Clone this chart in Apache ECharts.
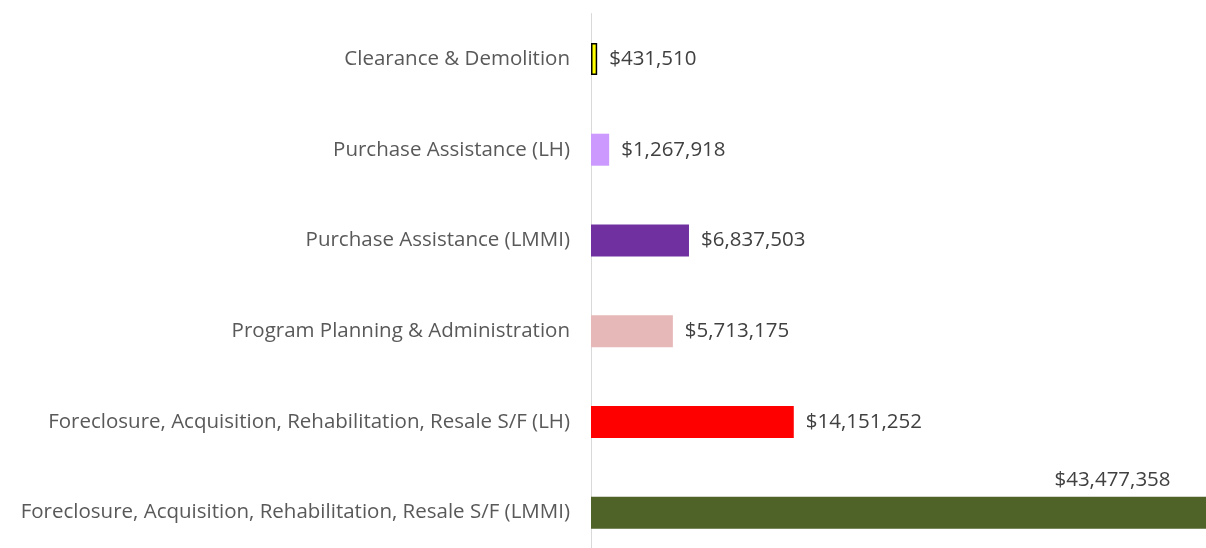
<!DOCTYPE html>
<html>
<head>
<meta charset="utf-8">
<script src="https://cdn.jsdelivr.net/npm/echarts@6/dist/echarts.min.js"></script>
<style>
  html, body { margin: 0; padding: 0; background: #fff; }
  #chart { width: 1206px; height: 548px; }
</style>
</head>
<body>
<div id="chart"></div>
<script>
// categories from bottom to top (echarts category order)
const categories = [
  'Foreclosure, Acquisition, Rehabilitation, Resale S/F (LMMI)',
  'Foreclosure, Acquisition, Rehabilitation, Resale S/F (LH)',
  'Program Planning & Administration',
  'Purchase Assistance (LMMI)',
  'Purchase Assistance (LH)',
  'Clearance & Demolition'
];
const amounts = [43477358, 14151252, 5713175, 6837503, 1267918, 431510];
const barColors = ['#4F6228', '#FF0000', '#E6B8B7', '#7030A0', '#CC99FF', '#FFFF00'];

const fontName = 'Open Sans';
const fontSize = 20.5;

const chart = echarts.init(document.getElementById('chart'));

const seriesData = amounts.map(function (v, i) {
  const item = { value: v, itemStyle: { color: barColors[i] } };
  if (i === 5) {
    // yellow bar has a dark outline
    item.itemStyle.borderColor = '#000';
    item.itemStyle.borderWidth = 1.5;
  }
  if (i === 0) {
    // biggest bar: label sits above the bar near its end
    item.label = { position: 'top', align: 'center', offset: [210, 6] };
  }
  return item;
});

chart.setOption({
  animation: false,
  grid: {
    left: 591, right: -8, top: 13.6, height: 544.4,
    containLabel: false, outerBoundsMode: 'none'
  },
  xAxis: {
    type: 'value',
    min: 0,
    max: 43477358,
    show: false
  },
  yAxis: {
    type: 'category',
    data: categories,
    axisLine: { show: true, lineStyle: { color: '#D9D9D9', width: 1 } },
    axisTick: { show: false },
    axisLabel: {
      color: '#595959',
      fontFamily: fontName,
      fontSize: fontSize,
      margin: 21
    }
  },
  series: [{
    type: 'bar',
    barWidth: 32,
    data: seriesData,
    label: {
      show: true,
      position: 'right',
      distance: 12,
      color: '#404040',
      fontFamily: fontName,
      fontSize: fontSize,
      formatter: function (p) {
        return '$' + p.value.toLocaleString('en-US');
      }
    }
  }]
});
</script>
</body>
</html>
